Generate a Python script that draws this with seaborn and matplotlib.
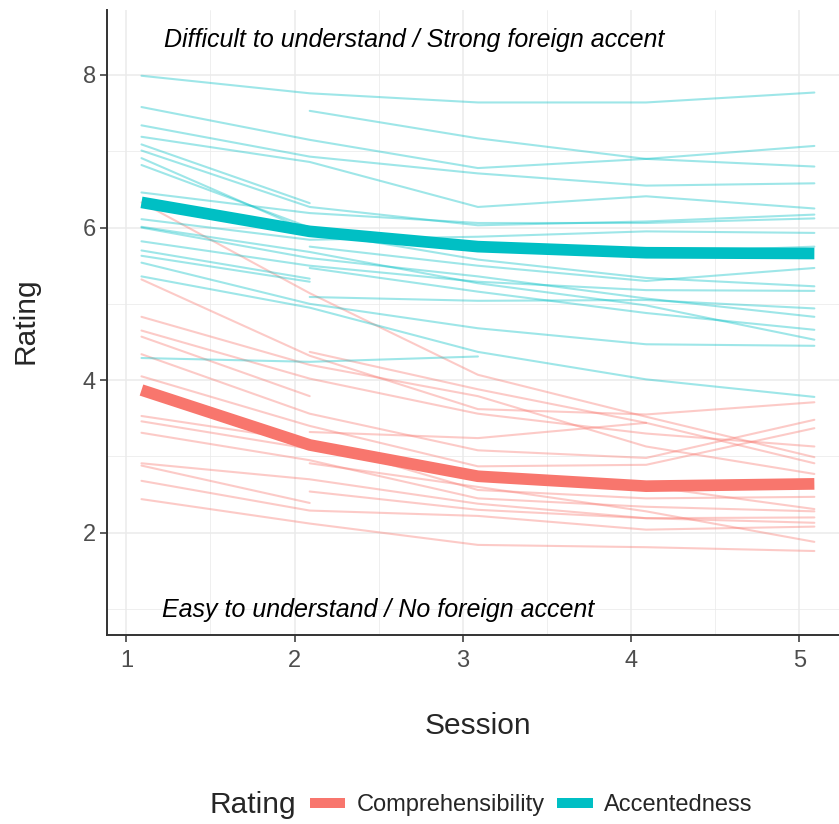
import numpy as np
import pandas as pd
import matplotlib
matplotlib.use("Agg")
import matplotlib.pyplot as plt
import seaborn as sns
from matplotlib.lines import Line2D

nan = np.nan
sessions = [1, 2, 3, 4, 5]
rating_names = ["Comprehensibility", "Accentedness"]

# individual speaker trajectories (sessions 1..5)
accent_lines = [
    [7.99, 7.76, 7.64, 7.64, 7.77],
    [nan, 7.53, 7.17, 6.90, 6.80],
    [7.58, 7.15, 6.78, 6.90, 7.07],
    [7.34, 6.93, 6.71, 6.55, 6.58],
    [7.19, 6.86, 6.27, 6.41, 6.25],
    [7.09, 6.32, nan, nan, nan],
    [7.01, 6.27, 6.03, 6.08, 6.17],
    [6.91, 5.95, 5.58, 5.34, 5.23],
    [6.82, 6.00, 5.72, 5.67, 5.75],
    [6.46, 6.19, 6.06, 6.06, 6.12],
    [6.11, 5.84, 5.88, 5.95, 5.93],
    [6.01, 5.68, 5.27, 4.98, 4.53],
    [6.00, 5.60, 5.36, 5.07, 4.83],
    [5.82, 5.50, 5.29, 5.18, 5.17],
    [5.70, 5.33, nan, nan, nan],
    [5.63, 5.29, nan, nan, nan],
    [5.54, 5.00, 4.68, 4.47, 4.45],
    [5.36, 4.95, 4.37, 4.01, 3.78],
    [4.29, 4.24, 4.31, nan, nan],
    [nan, 5.75, 5.50, 5.30, 5.47],
    [nan, 5.47, 5.16, 4.88, 4.66],
    [nan, 5.09, 5.04, 5.05, 4.94],
]

compr_lines = [
    [6.33, 5.14, 4.07, 3.52, 2.99],
    [5.32, 4.32, 3.62, 3.55, 3.71],
    [4.83, 4.20, 3.79, 3.13, 2.77],
    [4.65, 4.02, 3.56, 3.30, 3.13],
    [4.57, 3.79, nan, nan, nan],
    [nan, 4.37, 3.88, 3.44, 2.91],
    [4.34, 3.56, 3.08, 2.98, 3.48],
    [4.05, 3.40, 2.87, 2.89, 3.37],
    [3.53, 3.20, 2.56, 2.45, 2.47],
    [3.46, 3.10, 2.79, 2.61, 2.31],
    [3.31, 2.95, 2.45, 2.34, 2.28],
    [nan, 3.32, 3.24, 3.44, nan],
    [2.91, 2.70, 2.38, 2.19, 2.13],
    [2.88, 2.39, nan, nan, nan],
    [2.68, 2.29, 2.22, 2.04, 2.08],
    [2.44, 2.12, 1.84, 1.81, 1.76],
    [nan, 2.91, 2.60, 2.28, 1.88],
    [nan, 2.54, 2.30, 2.19, 2.20],
]

# group means (thick lines)
compr_mean = [3.87, 3.15, 2.74, 2.61, 2.64]
accent_mean = [6.33, 5.95, 5.75, 5.67, 5.66]

top_note = "Difficult to understand / Strong foreign accent"
bottom_note = "Easy to understand / No foreign accent"

# ---------------------------------------------------------------
x_offset = 0.09
rows = []
for name, lines in [("Comprehensibility", compr_lines), ("Accentedness", accent_lines)]:
    for i, vals in enumerate(lines):
        for s, v in zip(sessions, vals):
            if not np.isnan(v):
                rows.append({"Rating": name, "speaker": f"{name[:1]}{i}",
                             "x": s + x_offset, "value": v})
df = pd.DataFrame(rows)

mrows = []
for name, vals in [("Comprehensibility", compr_mean), ("Accentedness", accent_mean)]:
    for s, v in zip(sessions, vals):
        mrows.append({"Rating": name, "x": s + x_offset, "value": v})
dfm = pd.DataFrame(mrows)

sns.set_theme(style="white")
plt.rcParams["font.family"] = ["Liberation Sans", "DejaVu Sans"]

pal = {"Comprehensibility": "#F8766D", "Accentedness": "#00BFC4"}

W, H = 839, 824
fig = plt.figure(figsize=(W / 100, H / 100), dpi=100)
left_px, right_px, top_px, bot_px = 107, 848, 10, 635
ax = fig.add_axes([left_px / W, 1 - bot_px / H, (right_px - left_px) / W, (bot_px - top_px) / H])

sns.lineplot(data=df, x="x", y="value", hue="Rating", units="speaker", estimator=None,
             palette=pal, hue_order=rating_names, alpha=0.38, linewidth=1.5,
             legend=False, ax=ax, sort=True)
sns.lineplot(data=dfm, x="x", y="value", hue="Rating", palette=pal, hue_order=rating_names,
             linewidth=8.4, legend=False, ax=ax, solid_capstyle="butt", solid_joinstyle="round")

ax.set_xlim(0.885, 5.29)
ax.set_ylim(0.659, 8.852)
ax.set_xticks([1, 2, 3, 4, 5])
ax.set_xticks([1.5, 2.5, 3.5, 4.5], minor=True)
ax.set_yticks([2, 4, 6, 8])
ax.set_yticks([1, 3, 5, 7], minor=True)
ax.grid(which="major", color="#EBEBEB", linewidth=1.1)
ax.grid(which="minor", color="#EBEBEB", linewidth=0.55)
ax.set_axisbelow(True)

for sp in ["top", "right"]:
    ax.spines[sp].set_visible(False)
for sp in ["left", "bottom"]:
    ax.spines[sp].set_visible(True)
    ax.spines[sp].set_color("#333333")
    ax.spines[sp].set_linewidth(1.4)

ax.tick_params(which="major", direction="out", length=5, width=1.1, color="#333333",
               labelsize=17, labelcolor="#4D4D4D", bottom=True, left=True)
ax.tick_params(axis="x", which="major", pad=6)
ax.tick_params(axis="y", which="major", pad=3)
ax.tick_params(which="minor", length=0)
ax.set_xlabel("")
ax.set_ylabel("")

ax.text(1.225, 8.46, top_note, style="italic", fontsize=18, ha="left", va="center", color="black")
ax.text(1.21, 0.99, bottom_note, style="italic", fontsize=18, ha="left", va="center", color="black")

fig.text((left_px + right_px) / 2 / W, 1 - 726 / H, "Session", fontsize=21.5, ha="center", va="center")
fig.text(25 / W, 1 - 321 / H, "Rating", fontsize=21.5, ha="center", va="center", rotation=90)

fig.text(209 / W, 1 - 805 / H, "Rating", fontsize=21.5, ha="left", va="center")
handles = [Line2D([], [], color=pal[n], linewidth=7.2, solid_capstyle="butt") for n in rating_names]
fig.legend(handles, rating_names, loc="center left", bbox_to_anchor=(310 / W, 1 - 805 / H),
           ncol=2, frameon=False, fontsize=17, handlelength=1.5, handletextpad=0.5,
           columnspacing=0.5, borderpad=0, borderaxespad=0)

fig.savefig("out.png", dpi=100)
